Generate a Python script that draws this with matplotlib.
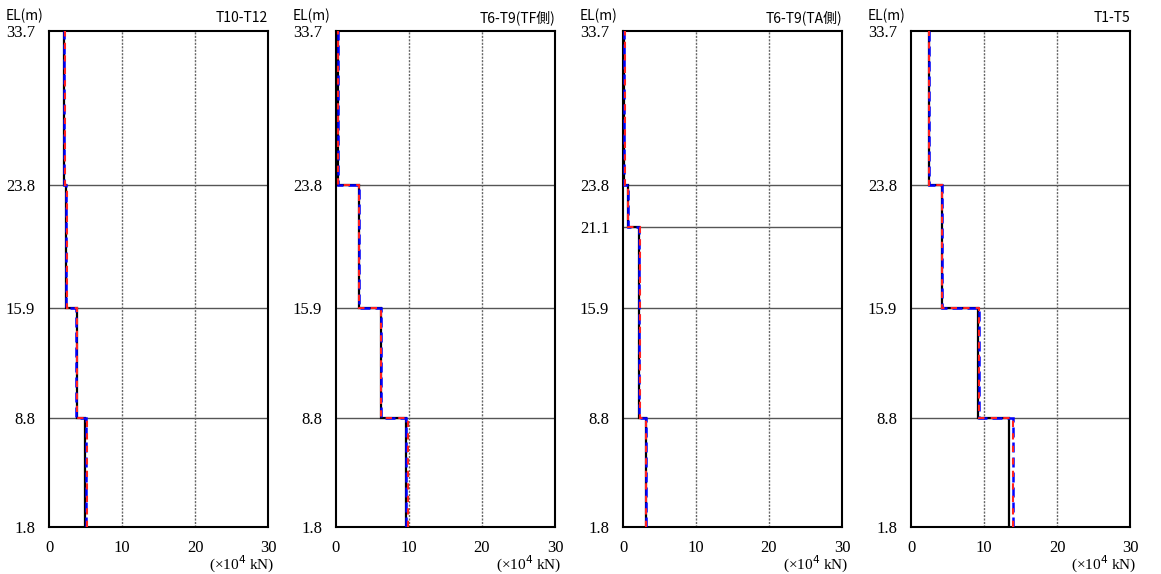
import matplotlib
matplotlib.use("Agg")
import matplotlib.pyplot as plt
import numpy as np

plt.rcParams['font.family'] = ['Noto Sans CJK JP', 'DejaVu Sans']

titles = ["T10-T12", "T6-T9(TF側)", "T6-T9(TA側)", "T1-T5"]

# Elevation boundaries (top to bottom) per panel
levels_p1 = [33.7, 23.8, 15.9, 8.8, 1.8]
levels_p2 = [33.7, 23.8, 15.9, 8.8, 1.8]
levels_p3 = [33.7, 23.8, 21.1, 15.9, 8.8, 1.8]
levels_p4 = [33.7, 23.8, 15.9, 8.8, 1.8]

# Segment values (x10^4 kN), top segment first
black_p1 = [2.1, 2.3, 3.85, 4.95]
blue_p1 = [2.1, 2.3, 3.75, 5.1]
red_p1 = [2.2, 2.4, 3.85, 5.2]

black_p2 = [0.25, 3.1, 6.1, 9.55]
blue_p2 = [0.25, 3.1, 6.1, 9.6]
red_p2 = [0.3, 3.15, 6.15, 9.9]

black_p3 = [0.2, 0.65, 2.25, 2.25, 3.1]
blue_p3 = [0.2, 0.65, 2.25, 2.25, 3.15]
red_p3 = [0.25, 0.7, 2.3, 2.3, 3.2]

black_p4 = [2.4, 4.2, 9.2, 13.4]
blue_p4 = [2.4, 4.2, 9.25, 14.0]
red_p4 = [2.45, 4.25, 9.35, 14.0]

x_ticks = [0, 10, 20, 30]

panels = [
    (titles[0], levels_p1, black_p1, blue_p1, red_p1),
    (titles[1], levels_p2, black_p2, blue_p2, red_p2),
    (titles[2], levels_p3, black_p3, blue_p3, red_p3),
    (titles[3], levels_p4, black_p4, blue_p4, red_p4),
]

W, H = 1161, 574
fig = plt.figure(figsize=(W / 100, H / 100), dpi=100)
lefts_px = [49, 336, 623, 911]
width_px = 219
top_px, bot_px = 31, 527
serif = 'Liberation Serif'

for (title, lev, bk, bl, rd), lp in zip(panels, lefts_px):
    ax = fig.add_axes([lp / W, 1 - bot_px / H, width_px / W, (bot_px - top_px) / H])
    edges = list(reversed(lev))
    ax.set_xlim(0, 30)
    ax.set_ylim(min(lev), max(lev))
    # grid
    for y in lev[1:-1]:
        ax.axhline(y, color='#555555', lw=1.0, zorder=1)
    for x in x_ticks[1:-1]:
        ax.axvline(x, color='#666666', lw=1.0, ls=(0, (1.5, 1)), zorder=1)
    ax.stairs(list(reversed(bk)), edges, orientation='horizontal', baseline=None,
              color='black', lw=1.6, zorder=3)
    ax.stairs(list(reversed(bl)), edges, orientation='horizontal', baseline=None,
              color='#0000ff', lw=1.8, ls=(0, (4, 2)), zorder=4)
    ax.stairs(list(reversed(rd)), edges, orientation='horizontal', baseline=None,
              color='#ff2020', lw=1.5, ls=(0, (3, 3)), zorder=5)
    ax.set_xticks(x_ticks)
    ax.set_xticklabels([str(t) for t in x_ticks])
    ax.set_yticks(lev)
    ax.set_yticklabels([f"{v:.1f}" for v in lev])
    for lbl in ax.get_xticklabels() + ax.get_yticklabels():
        lbl.set_fontfamily(serif)
        lbl.set_fontsize(12)
    ax.tick_params(axis='x', length=0, pad=9)
    ax.tick_params(axis='y', length=0, pad=10)
    for s in ax.spines.values():
        s.set_linewidth(1.5)
        s.set_color('black')
    ax.text(1.0, 1.012, title, transform=ax.transAxes, ha='right', va='bottom',
            fontsize=10, family=['Noto Sans CJK JP', 'DejaVu Sans'])
    ax.text(-0.2, 1.015, "EL(m)", transform=ax.transAxes, ha='left', va='bottom',
            fontsize=10, family=['Noto Sans CJK JP', 'DejaVu Sans'])
    ax.text(1.03, -0.055, "(×10$^4$ kN)", transform=ax.transAxes, ha='right', va='top',
            fontsize=11, family=serif)

fig.savefig("out.png", dpi=100, facecolor='white')
